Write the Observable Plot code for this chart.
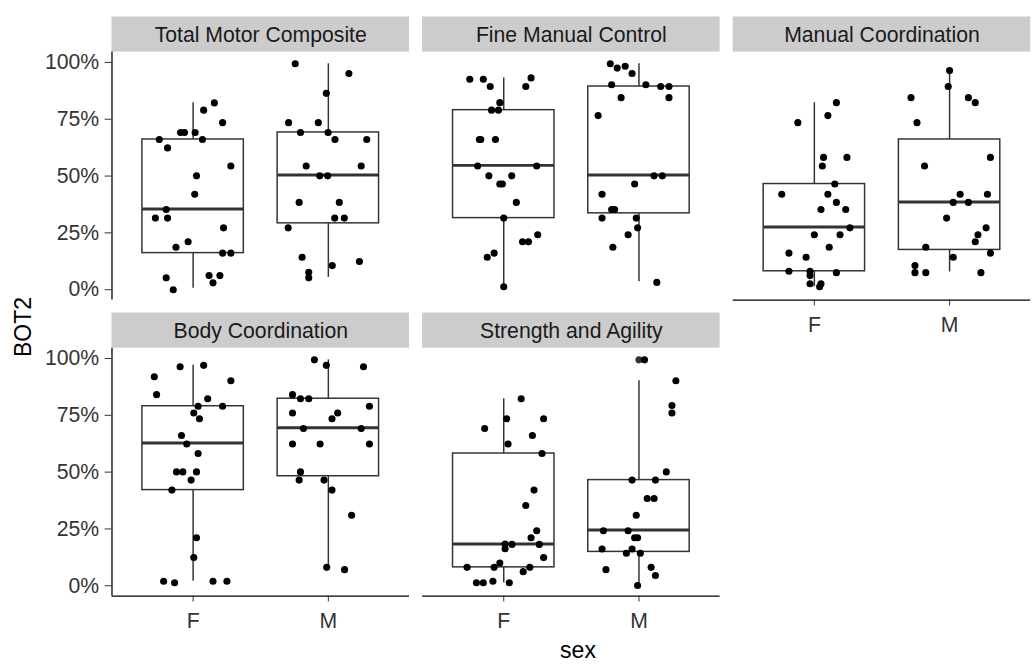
<!DOCTYPE html>
<html><head><meta charset="utf-8">
<script src="https://cdn.jsdelivr.net/npm/d3@7"></script>
<script src="https://cdn.jsdelivr.net/npm/@observablehq/plot@0.6"></script>
<style>
html,body{margin:0;padding:0;background:#fff;overflow:hidden;}
#wrap{position:relative;width:1032px;height:666px;overflow:hidden;font-family:"Liberation Sans",Arial,sans-serif;background:#fff;}
#wrap svg{position:absolute;left:0;top:0;z-index:1;}
.atitle{position:absolute;z-index:2;font-size:23px;line-height:23px;color:#000;white-space:nowrap;}
#ylab{left:23px;top:327px;transform:translate(-50%,-50%) rotate(-90deg);}
#xlab{left:578px;top:639px;transform:translateX(-50%);}
</style></head><body>
<div id="wrap"><div class="atitle" id="ylab">BOT2</div><div class="atitle" id="xlab">sex</div></div>
<script>
// ---- data (values in %, jitter = horizontal offset in category units) ----
const domainNames = ["Total Motor Composite","Fine Manual Control","Manual Coordination","Body Coordination","Strength and Agility"];
const sexes = ["F","M"];
const yTicks = [0, 25, 50, 75, 100];

const tmcF  = [82.2,79.0,73.5,69.2,69.2,69.2,66.1,66.1,62.4,54.4,50.1,42.0,35.3,31.5,31.5,27.2,21.1,18.7,16.1,16.1,5.2,6.2,6.2,3.0,0.0];
const tmcFj = [0.157,0.078,0.218,-0.093,-0.064,0.015,-0.25,0.069,-0.189,0.279,0.025,0.012,-0.199,-0.279,-0.189,0.225,-0.037,-0.127,0.218,0.279,-0.199,0.118,0.198,0.147,-0.147];
const tmcM  = [99.4,95.1,86.4,73.5,73.5,69.2,69.2,66.1,66.1,54.4,54.4,50.1,50.1,38.4,38.4,31.5,31.5,27.2,14.3,10.6,12.4,7.7,5.2];
const tmcMj = [-0.245,0.152,-0.015,-0.294,-0.074,-0.206,-0.002,0.049,0.284,-0.164,0.243,-0.064,-0.005,-0.216,0.081,0.047,0.118,-0.297,-0.194,0.029,0.23,-0.145,-0.145];

const fmcF  = [92.6,92.6,89.4,93.2,89.4,82.3,79.0,79.0,66.1,66.1,66.1,54.4,54.4,50.1,50.1,46.5,46.5,38.4,31.5,21.1,21.1,24.2,16.1,14.3,1.3];
const fmcFj = [-0.251,-0.151,-0.1,0.202,0.163,-0.029,-0.09,-0.039,-0.18,-0.17,-0.061,-0.193,0.244,-0.11,0.059,-0.029,-0.01,0.093,0.0,0.139,0.183,0.251,-0.071,-0.122,0.0];
const fmcM  = [99.4,97.5,98.3,95.1,90.2,90.2,89.4,89.4,84.5,84.5,76.6,50.1,50.1,46.5,42.0,35.3,35.3,31.5,31.5,27.2,24.2,18.7,3.2];
const fmcMj = [-0.212,-0.161,-0.102,-0.051,-0.202,0.051,0.161,0.222,-0.132,0.222,-0.302,0.112,0.173,-0.032,-0.273,-0.202,-0.18,-0.273,-0.02,-0.01,-0.08,-0.193,0.132];

const mcF  = [82.3,76.6,73.5,58.2,58.2,54.4,46.5,42.0,42.0,38.4,35.3,35.3,27.2,24.2,24.2,18.7,16.1,14.3,8.1,8.1,7.5,6.2,2.6,2.6,1.3];
const mcFj = [0.163,0.1,-0.122,0.068,0.241,0.059,0.151,-0.241,0.1,0.163,0.049,0.232,0.263,0.0,0.19,0.11,-0.188,-0.061,-0.188,-0.032,0.163,-0.032,-0.032,0.049,0.039];
const mcM  = [96.4,89.4,84.5,84.5,82.3,73.5,58.2,54.4,42.0,42.0,38.4,38.4,31.5,27.2,24.2,21.1,18.7,16.1,14.3,10.6,7.5,7.5,7.5];
const mcMj = [0,-0.01,-0.285,0.139,0.19,-0.241,0.302,-0.185,0.078,0.28,0.027,0.139,-0.022,0.27,0.21,0.19,-0.176,0.302,0.027,-0.256,-0.256,-0.176,0.232];

const bcF  = [92.0,96.4,97.0,84.1,90.2,82.3,79.0,79.0,76.0,73.5,66.1,62.4,58.2,50.1,50.1,50.1,46.5,42.1,21.1,12.4,2.0,1.3,2.0,2.0];
const bcFj = [-0.287,-0.096,0.078,-0.27,0.279,0.108,0.037,0.218,0.005,0.047,-0.086,-0.047,0.037,-0.123,-0.076,0.025,-0.015,-0.157,0.025,0.005,-0.218,-0.137,0.147,0.25];
const bcM  = [99.4,97.0,96.4,84.1,82.3,82.3,79.0,76.0,76.0,73.5,69.2,69.2,62.4,62.4,62.4,50.1,46.5,46.5,42.1,31.0,8.1,7.1];
const bcMj = [-0.103,-0.015,0.26,-0.265,-0.206,-0.145,0.304,-0.265,0.069,0.027,-0.184,0.243,-0.265,-0.061,0.304,-0.206,-0.216,-0.032,0.027,0.172,-0.012,0.12];

const saF  = [82.3,73.5,73.5,69.2,66.1,62.4,58.2,42.1,35.3,24.2,21.1,18.4,18.2,16.3,18.2,12.4,8.1,8.1,10.0,8.1,6.2,1.3,1.3,2.0,1.3];
const saFj = [0.129,0.022,0.295,-0.141,0.212,0.032,0.283,0.224,0.163,0.244,0.202,0.01,0.061,0.01,0.263,0.295,-0.271,-0.071,-0.029,0.193,0.144,-0.202,-0.151,-0.08,0.041];
const saM  = [99.4,90.2,79.3,76.0,50.1,46.5,46.5,38.4,38.4,31.0,24.2,24.2,21.1,21.1,16.2,16.2,14.3,14.3,7.1,8.1,4.5,0.1];
const saMj = [0.041,0.273,0.244,0.244,0.202,-0.051,0.122,0.061,0.112,-0.02,-0.263,-0.08,-0.032,-0.01,-0.051,-0.273,-0.093,0.01,-0.244,0.09,0.122,-0.01];

// box statistics per panel: [F, M]
const boxLow  = [[0.6,5.4],[1.3,3.5],[1.3,7.8],[2.0,8.1],[1.3,0.1]];
const boxQ1   = [[16.1,29.2],[31.5,33.6],[8.1,17.5],[42.1,48.2],[8.1,14.9]];
const boxMed  = [[35.5,50.5],[54.7,50.5],[27.6,38.6],[62.8,69.5],[18.4,24.5]];
const boxQ3   = [[66.1,69.2],[79.0,89.4],[46.5,66.1],[79.0,82.3],[58.2,46.5]];
const boxHigh = [[82.3,99.4],[93.2,99.4],[82.3,96.4],[97.0,99.4],[82.3,90.2]];
// outliers: [panel index, sex index, value]
const outliers = [[4,1,99.4]];

// ---- layout constants ----
const W = 1046, H = 666;
const X0 = 0.4, X1 = 2.6;
const Y0 = -0.0455, Y1 = 1.0455;
const panelH = 251.3;
const stripPx = 35.6;
const stripU = stripPx * (Y1 - Y0) / panelH;
const boxHalf = 0.375;

const vals = [[tmcF,tmcM],[fmcF,fmcM],[mcF,mcM],[bcF,bcM],[saF,saM]];
const jits = [[tmcFj,tmcMj],[fmcFj,fmcMj],[mcFj,mcMj],[bcFj,bcMj],[saFj,saMj]];

const panels = domainNames.map((name,i)=>({name, col:i%3, row:Math.floor(i/3)}));
const points = [], boxes = [];
panels.forEach((p,i)=>{
  sexes.forEach((s,k)=>{
    vals[i][k].forEach((v,j)=>points.push({col:p.col,row:p.row,x:k+1+jits[i][k][j],y:v/100}));
    boxes.push({col:p.col,row:p.row,x:k+1,lo:boxLow[i][k]/100,q1:boxQ1[i][k]/100,med:boxMed[i][k]/100,q3:boxQ3[i][k]/100,hi:boxHigh[i][k]/100});
  });
});
const outs = outliers.map(([i,k,v])=>({col:panels[i].col,row:panels[i].row,x:k+1,y:v/100}));
const bottomAxes = [{col:0,row:1},{col:1,row:1},{col:2,row:0}];
const leftAxes = [{col:0,row:0},{col:0,row:1}];

const font = '"Liberation Sans", Arial, sans-serif';
const chart = Plot.plot({
  width: W, height: H,
  marginLeft: 113, marginRight: W - 1044.2, marginTop: 52.3, marginBottom: H - 603.7,
  style: {fontFamily: font, fontSize: "21.5px", background: "transparent", overflow: "visible"},
  fx: {domain:[0,1,2], paddingInner: 0.04225, paddingOuter: 0, axis: null, round: false},
  fy: {domain:[0,1], paddingInner: 0.1626, paddingOuter: 0, axis: null, round: false},
  x: {domain:[X0,X1], axis: null},
  y: {domain:[Y0,Y1], axis: null},
  marks: [
    Plot.rect(panels, {fx:"col", fy:"row", x1:()=>X0, x2:()=>X1, y1:()=>Y1, y2:()=>Y1+stripU, fill:"#CCCCCC"}),
    Plot.text(panels, {fx:"col", fy:"row", x:()=>(X0+X1)/2, y:()=>Y1+stripU/2, text:"name", fill:"#1A1A1A", fontSize:21.5, dy:1}),
    Plot.ruleX(boxes, {fx:"col", fy:"row", x:"x", y1:"lo", y2:"hi", stroke:"#333333", strokeWidth:1.5}),
    Plot.rect(boxes, {fx:"col", fy:"row", x1:d=>d.x-boxHalf, x2:d=>d.x+boxHalf, y1:"q1", y2:"q3", fill:"white", stroke:"#333333", strokeWidth:1.5}),
    Plot.ruleY(boxes, {fx:"col", fy:"row", y:"med", x1:d=>d.x-boxHalf, x2:d=>d.x+boxHalf, stroke:"#333333", strokeWidth:3}),
    Plot.dot(outs, {fx:"col", fy:"row", x:"x", y:"y", r:3.6, fill:"#333333", stroke:null}),
    Plot.dot(points, {fx:"col", fy:"row", x:"x", y:"y", r:3.6, fill:"black", stroke:null}),
    Plot.ruleY(bottomAxes, {fx:"col", fy:"row", y:()=>Y0, x1:()=>X0, x2:()=>X1, stroke:"black", strokeWidth:1.3}),
    Plot.ruleX(leftAxes, {fx:"col", fy:"row", x:()=>X0, y1:()=>Y0, y2:()=>Y1, stroke:"black", strokeWidth:1.3}),
    Plot.axisY({facetAnchor:"left", ticks: yTicks.map(t=>t/100), tickFormat: d=>`${Math.round(d*100)}%`, tickSize:7, tickPadding:6, label:null, color:"#333333", fontSize:21.5}),
    Plot.axisX({facetAnchor:"bottom-empty", ticks:[1,2], tickFormat: d=>sexes[d-1], tickSize:6, tickPadding:11, label:null, color:"#333333", fontSize:21.5})
  ]
});
document.getElementById("wrap").appendChild(chart);
</script>
</body></html>
